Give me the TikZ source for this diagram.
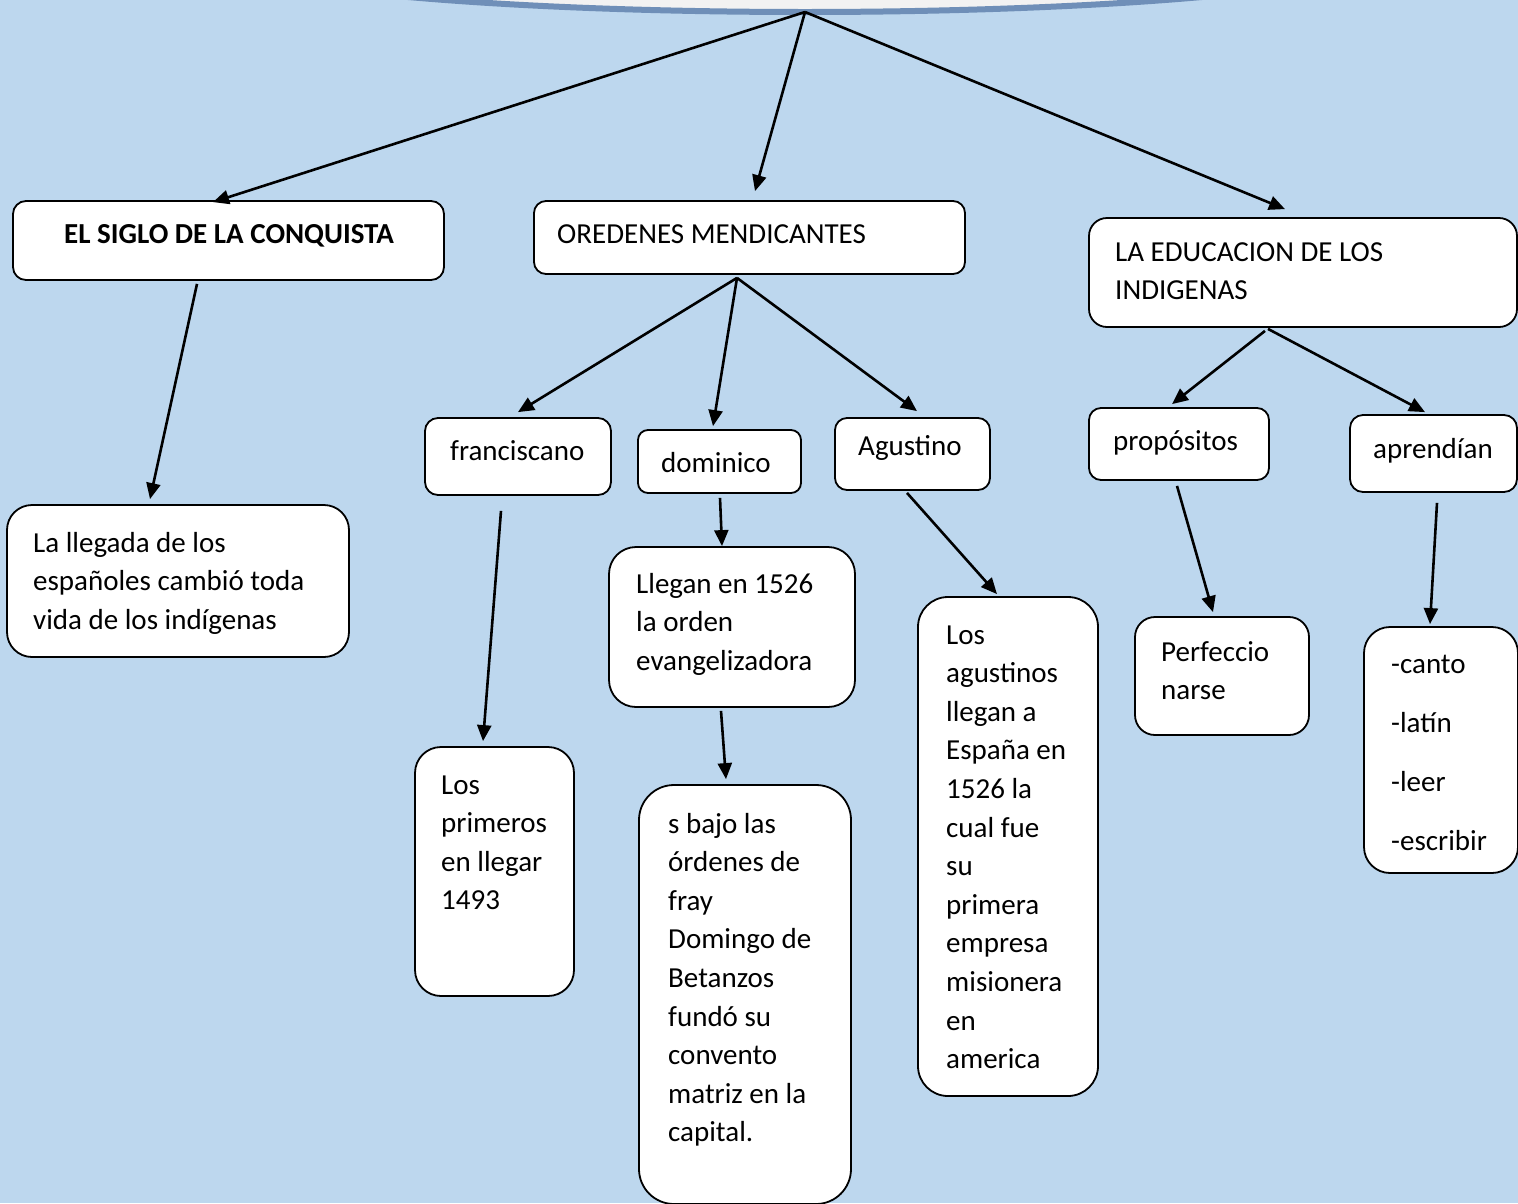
\documentclass[tikz,border=0pt]{standalone}
\usepackage{fontspec}
\setmainfont{Carlito}
\usetikzlibrary{arrows.meta,shapes.geometric}
\definecolor{bg}{HTML}{BDD7EE}
\definecolor{ellfill}{HTML}{F2F2F2}
\definecolor{ellline}{HTML}{6F8FB8}
\begin{document}
\begin{tikzpicture}[x=1pt,y=-1pt,
  box/.style={draw=black,line width=1.8pt,fill=white,inner sep=0pt},
  txt/.style={anchor=base west,align=left,inner sep=0pt,font=\fontsize{29}{38.6}\selectfont},
  arr/.style={line width=2.6pt,-{Triangle[length=16pt,width=14pt]}}]
\fill[bg] (0,0) rectangle (1518,1203);
\useasboundingbox (0,0) rectangle (1518,1203);
% top ellipse
\node[ellipse,draw=ellline,line width=6pt,fill=ellfill,minimum width=1200pt,minimum height=120pt,inner sep=0pt] (top) at (805,-48) {};
% boxes
\node[box,minimum width=431pt,minimum height=79pt,rounded corners=13pt] (siglo) at (228.5,240.5) {};
\node[box,minimum width=431pt,minimum height=73pt,rounded corners=12pt] (orden) at (749.5,237.5) {};
\node[box,minimum width=428pt,minimum height=109pt,rounded corners=18pt] (educ) at (1303,272.5) {};
\node[box,minimum width=342pt,minimum height=152pt,rounded corners=25pt] (llegada) at (178,581) {};
\node[box,minimum width=186pt,minimum height=77pt,rounded corners=13pt] (fran) at (518,456.5) {};
\node[box,minimum width=163pt,minimum height=63pt,rounded corners=10pt] (domi) at (719.5,461.5) {};
\node[box,minimum width=155pt,minimum height=72pt,rounded corners=12pt] (agus) at (912.5,454) {};
\node[box,minimum width=180pt,minimum height=72pt,rounded corners=12pt] (prop) at (1179,444) {};
\node[box,minimum width=167pt,minimum height=77pt,rounded corners=13pt] (apren) at (1433.5,453.5) {};
\node[box,minimum width=246pt,minimum height=160pt,rounded corners=27pt] (llegan) at (732,627) {};
\node[box,minimum width=159pt,minimum height=249pt,rounded corners=26pt] (prim) at (494.5,871.5) {};
\node[box,minimum width=212pt,minimum height=419pt,rounded corners=35pt] (bajo) at (745,994.5) {};
\node[box,minimum width=180pt,minimum height=499pt,rounded corners=30pt] (agustinos) at (1008,846.5) {};
\node[box,minimum width=174pt,minimum height=118pt,rounded corners=20pt] (perf) at (1222,676) {};
\node[box,minimum width=154pt,minimum height=246pt,rounded corners=26pt] (canto) at (1441,750) {};
% texts (base anchor = baseline of the last line)
\node[txt,anchor=base,font=\fontsize{29}{38.6}\selectfont\bfseries] (tsiglo) at (229,243) {EL SIGLO DE LA CONQUISTA};
\node[txt] (torden) at (557,243) {OREDENES MENDICANTES};
\node[txt] (teduc) at (1115,299.6) {LA EDUCACION DE LOS\\INDIGENAS};
\node[txt] (tllegada) at (33,629.2) {La llegada de los\\españoles cambió toda\\vida de los indígenas};
\node[txt] (tfran) at (450,460) {franciscano};
\node[txt] (tdomi) at (661,472) {dominico};
\node[txt] (tagus) at (858,455) {Agustino};
\node[txt] (tprop) at (1113,450) {propósitos};
\node[txt] (tapren) at (1373,458) {aprendían};
\node[txt] (tllegan) at (636,670.2) {Llegan en 1526\\la orden\\evangelizadora};
\node[txt] (tprim) at (441,909.8) {Los\\primeros\\en llegar\\1493};
\node[txt] (tbajo) at (668,1141.8) {s bajo las\\órdenes de\\fray\\Domingo de\\Betanzos\\fundó su\\convento\\matriz en la\\capital.};
\node[txt] (tagustinos) at (946,1068.6) {Los\\agustinos\\llegan a\\España en\\1526 la\\cual fue\\su\\primera\\empresa\\misionera\\en\\america};
\node[txt] (tperf) at (1161,699.6) {Perfeccio\\narse};
\node[txt,font=\fontsize{29}{59.3}\selectfont] (tcanto) at (1391,850.9) {-canto\\-latín\\-leer\\-escribir};
% arrows
\draw[arr] ([yshift=3pt]top.south) -- ([xshift=-15.5pt,yshift=-2pt]siglo.north);
\draw[arr] ([yshift=3pt]top.south) -- ([xshift=5.5pt,yshift=9pt]orden.north);
\draw[arr] ([yshift=3pt]top.south) -- ([xshift=-18pt,yshift=8pt]educ.north);
\draw[arr] ([xshift=-31.5pt,yshift=-3pt]siglo.south) -- ([xshift=-28pt,yshift=5pt]llegada.north);
\draw[arr] ([xshift=-12.5pt,yshift=-3pt]orden.south) -- ([yshift=5pt]fran.north);
\draw[arr] ([xshift=-12.5pt,yshift=-3pt]orden.south) -- ([xshift=-6.5pt,yshift=3pt]domi.north);
\draw[arr] ([xshift=-12.5pt,yshift=-3pt]orden.south) -- ([xshift=4.5pt,yshift=6pt]agus.north);
\draw[arr] ([xshift=-38pt,yshift=-3pt]educ.south) -- ([xshift=-7pt,yshift=3pt]prop.north);
\draw[arr] ([xshift=-35pt,yshift=-1pt]educ.south) -- ([xshift=-8.5pt,yshift=2pt]apren.north);
\draw[arr] ([xshift=-17pt,yshift=-15pt]fran.south) -- ([xshift=-11.5pt,yshift=5pt]prim.north);
\draw[arr] ([xshift=0.5pt,yshift=-4pt]domi.south) -- ([xshift=-10pt]llegan.north);
\draw[arr] ([xshift=-11pt,yshift=-3pt]llegan.south) -- ([xshift=-19pt,yshift=5pt]bajo.north);
\draw[arr] ([xshift=-5.5pt,yshift=-2pt]agus.south) -- ([xshift=-11pt,yshift=2pt]agustinos.north);
\draw[arr] ([xshift=-2pt,yshift=-5pt]prop.south) -- ([xshift=-9pt,yshift=4pt]perf.north);
\draw[arr] ([xshift=3.5pt,yshift=-10pt]apren.south) -- ([xshift=-11pt,yshift=2pt]canto.north);
\end{tikzpicture}
\end{document}
